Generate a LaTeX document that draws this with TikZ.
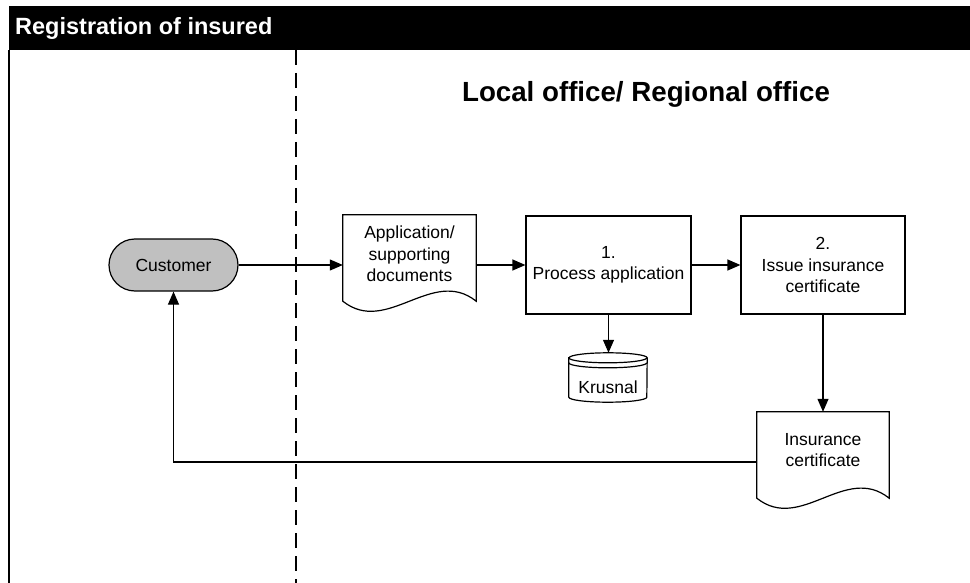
\documentclass[tikz,border=0pt]{standalone}
\usepackage{fontspec}
\setmainfont{Liberation Sans}
\usetikzlibrary{arrows.meta,calc}
\tikzset{
  shapeline/.style={draw=black, line width=1.2pt},
  txt/.style={align=center, font=\fontsize{17.5}{21.5}\selectfont, inner sep=0pt},
  procbox/.style={shapeline, rectangle, fill=white, txt},
  docbox/.style={rectangle, draw=none, inner sep=0pt},
  termbox/.style={shapeline, rectangle, rounded corners=26pt, fill=termgray, txt, minimum width=129pt, minimum height=52pt},
  arr/.style={line width=1.2pt, -{Triangle[length=13pt,width=11pt]}},
  lane/.style={line width=1.8pt},
}
\definecolor{termgray}{RGB}{192,192,192}
\newcommand\docshape[1]{%
  \draw[shapeline, fill=white] (#1.north west) -- (#1.north east) -- ([yshift=14pt]#1.south east)
    .. controls ([xshift=-44pt,yshift=49pt]#1.south east) and ([xshift=44pt,yshift=-21pt]#1.south west) ..
    ([yshift=14pt]#1.south west) -- cycle;}
\begin{document}
\begin{tikzpicture}[x=1pt,y=-1pt]
\useasboundingbox (0,0) rectangle (970,583);
% header
\fill[black] (9,6) rectangle (970,50);
\node[anchor=west, text=white, font=\fontsize{23.5}{28}\selectfont\bfseries, inner sep=0pt] (hdr) at (15,28) {Registration of insured};
% frame and lane divider
\draw[lane] (9,50) -- (9,583);
\draw[lane, dash pattern=on 15pt off 8pt] (296,50) -- (296,583);
\node[font=\fontsize{27.7}{32}\selectfont\bfseries, inner sep=0pt] (title) at (646,94) {Local office/ Regional office};
% customer
\node[termbox] (cust) at (173.5,265) {Customer};
% document 1
\node[docbox, minimum width=133pt, minimum height=100pt] (doc1) at (409.5,265) {};
\docshape{doc1}
\node[txt] (doc1t) at ([yshift=11pt]doc1.center) {Application/\\supporting\\documents};
% process boxes
\node[procbox, minimum width=165pt, minimum height=98pt] (p1) at (608.5,265) {1.\\Process application};
\node[procbox, minimum width=164pt, minimum height=98pt] (p2) at (823,265) {2.\\Issue insurance\\certificate};
% database
\node[docbox, minimum width=78pt, minimum height=49pt] (db) at (608,377.5) {};
\draw[shapeline, fill=white] ([yshift=-5pt]db.north west) -- ([yshift=5pt]db.south west)
  arc[start angle=180, end angle=360, x radius=39pt, y radius=5pt]
  -- ([yshift=-5pt]db.north east)
  arc[start angle=0, end angle=180, x radius=39pt, y radius=5pt] -- cycle;
\draw[shapeline] ([yshift=-5pt]db.north west) arc[start angle=180, end angle=360, x radius=39pt, y radius=5pt];
\draw[shapeline] ([yshift=-10pt]db.north west) arc[start angle=180, end angle=360, x radius=39pt, y radius=5pt];
\node[txt] (dbt) at ([yshift=-9.5pt]db.center) {Krusnal};
% document 2
\node[docbox, minimum width=132pt, minimum height=100pt] (doc2) at (823,462) {};
\docshape{doc2}
\node[txt] (doc2t) at ([yshift=12pt]doc2.center) {Insurance\\certificate};
% connectors
\draw[arr] (cust.east) -- (cust.east -| doc1.west);
\draw[arr] (doc1.east) -- (p1.west);
\draw[arr] (p1.east) -- (p2.west);
\draw[arr] (p1.south) -- (p1.south |- db.north);
\draw[arr] (p2.south) -- (p2.south |- doc2.north);
\draw[arr] (doc2.west) -| (cust.south);
\end{tikzpicture}
\end{document}
